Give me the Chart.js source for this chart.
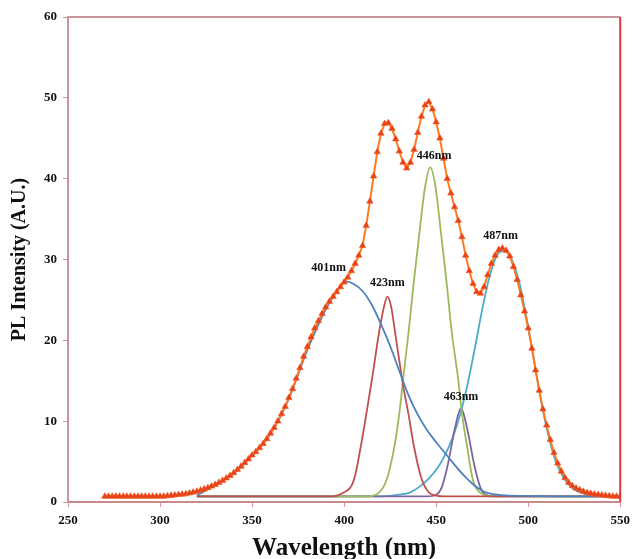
<!DOCTYPE html>
<html>
<head>
<meta charset="utf-8">
<script src="https://cdn.jsdelivr.net/npm/chart.js@4.4.0/dist/chart.umd.min.js"></script>
<style>
  html, body { margin: 0; padding: 0; background: #fff; }
  canvas { display: block; }
</style>
</head>
<body>
<canvas id="plChart" width="636" height="559"></canvas>
<script>
// measured PL spectrum (every 2 nm)
const wavelengths = [
  270, 272, 274, 276, 278, 280, 282, 284, 286, 288,
  290, 292, 294, 296, 298, 300, 302, 304, 306, 308,
  310, 312, 314, 316, 318, 320, 322, 324, 326, 328,
  330, 332, 334, 336, 338, 340, 342, 344, 346, 348,
  350, 352, 354, 356, 358, 360, 362, 364, 366, 368,
  370, 372, 374, 376, 378, 380, 382, 384, 386, 388,
  390, 392, 394, 396, 398, 400, 402, 404, 406, 408,
  410, 412, 414, 416, 418, 420, 422, 424, 426, 428,
  430, 432, 434, 436, 438, 440, 442, 444, 446, 448,
  450, 452, 454, 456, 458, 460, 462, 464, 466, 468,
  470, 472, 474, 476, 478, 480, 482, 484, 486, 488,
  490, 492, 494, 496, 498, 500, 502, 504, 506, 508,
  510, 512, 514, 516, 518, 520, 522, 524, 526, 528,
  530, 532, 534, 536, 538, 540, 542, 544, 546, 548,
  550
];
const measured = [
  0.7, 0.7, 0.7, 0.7, 0.7, 0.7, 0.7, 0.7, 0.7, 0.7,
  0.7, 0.7, 0.7, 0.7, 0.7, 0.7, 0.7, 0.75, 0.8, 0.85,
  0.9, 0.95, 1.0, 1.1, 1.2, 1.3, 1.45, 1.6, 1.75, 1.95,
  2.15, 2.4, 2.65, 2.95, 3.25, 3.6, 4.0, 4.4, 4.85, 5.3,
  5.8, 6.2, 6.7, 7.2, 7.8, 8.5, 9.2, 10.0, 10.9, 11.8,
  12.9, 14.0, 15.3, 16.6, 18.0, 19.2, 20.4, 21.5, 22.4, 23.3,
  24.1, 24.8, 25.4, 26.0, 26.6, 27.2, 27.8, 28.6, 29.5, 30.5,
  31.7, 34.2, 37.2, 40.3, 43.3, 45.6, 46.8, 46.9, 46.2, 44.9,
  43.4, 42.0, 41.3, 42.0, 43.6, 45.7, 47.7, 49.1, 49.5, 48.6,
  47.0, 45.0, 42.5, 40.0, 38.2, 36.5, 34.8, 32.8, 30.5, 28.6,
  27.0, 26.0, 25.8, 26.6, 28.1, 29.5, 30.5, 31.2, 31.4, 31.1,
  30.4, 29.1, 27.5, 25.6, 23.6, 21.5, 19.0, 16.3, 13.8, 11.5,
  9.5, 7.7, 6.1, 4.8, 3.8, 3.0, 2.4, 2.0, 1.7, 1.5,
  1.3, 1.15, 1.05, 0.95, 0.9, 0.85, 0.8, 0.75, 0.7, 0.7,
  0.7
];

// fitted components
const peak401X = [320, 330, 340, 350, 360, 370, 380, 390, 395, 401, 405, 410, 415, 420, 425, 430, 435, 440, 445, 450, 455, 460, 465, 470, 475, 480, 490, 500, 520, 550];
const peak401Y = [0.8, 2.1, 3.5, 5.7, 8.4, 12.8, 18.8, 23.8, 25.7, 27.3, 27.0, 26.1, 24.4, 22.0, 19.3, 16.2, 13.2, 10.8, 8.9, 7.4, 6.0, 4.6, 3.3, 2.2, 1.4, 1.0, 0.8, 0.75, 0.7, 0.7];

const peak423X = [320, 394, 397, 400, 404, 406, 409, 412, 415, 419, 421.5, 423.5, 425.5, 428, 432, 435, 438, 442, 446, 450, 455, 550];
const peak423Y = [0.7, 0.7, 0.85, 1.2, 2.0, 3.3, 6.8, 10.8, 15.0, 21.0, 24.0, 25.4, 24.2, 20.5, 14.5, 10.8, 6.8, 2.9, 1.2, 0.8, 0.7, 0.7];

const peak446X = [320, 412, 418, 423, 427.3, 430, 432, 435, 438, 441, 444, 446.8, 449.5, 452.5, 455.5, 458.5, 462, 464, 466.8, 470, 475, 481, 550];
const peak446Y = [0.7, 0.7, 1.0, 2.7, 6.85, 11.0, 15.1, 21.0, 27.5, 33.5, 39.0, 41.4, 39.2, 33.5, 27.5, 21.0, 15.1, 11.0, 6.85, 2.7, 1.0, 0.7, 0.7];

const peak463X = [320, 445, 450, 453, 456.5, 460, 463.5, 467, 470.5, 474, 477, 483, 550];
const peak463Y = [0.7, 0.7, 0.9, 1.8, 4.8, 8.9, 11.6, 8.9, 4.8, 1.8, 0.9, 0.7, 0.7];

const peak487X = [320, 420, 430, 436, 441, 446, 451, 455, 459, 463, 467, 471, 475, 479, 483, 487, 491, 495, 499, 503, 507, 511, 515, 519, 523, 527, 532, 540, 550];
const peak487Y = [0.7, 0.7, 0.9, 1.2, 1.9, 2.9, 4.3, 5.9, 8.0, 10.8, 14.5, 19.0, 23.8, 27.9, 30.5, 31.1, 30.0, 27.3, 22.9, 17.8, 12.5, 8.2, 5.0, 3.1, 1.9, 1.3, 0.95, 0.75, 0.7];

// peak labels (text anchored in data units)
const peakLabels = ['401nm', '423nm', '446nm', '463nm', '487nm'];
const peakLabelX = [391.6, 423.5, 448.9, 463.5, 485];
const peakLabelY = [28.9, 27.1, 42.8, 13.0, 32.9];

const xTicks = { min: 250, max: 550, step: 50 };
const yTicks = { min: 0, max: 60, step: 10 };

const pairs = (xs, ys) => xs.map((x, i) => ({ x: x, y: ys[i] }));

const serif = "'Liberation Serif', 'Times New Roman', serif";

function component(data, color) {
  return {
    data: data,
    borderColor: color,
    borderWidth: 1.8,
    pointRadius: 0,
    fill: false,
    cubicInterpolationMode: 'monotone'
  };
}

// plot frame + peak names
const framePlugin = {
  id: 'frame',
  afterDatasetsDraw(chart) {
    const { ctx, chartArea: a, scales } = chart;
    ctx.save();
    ctx.lineWidth = 2;
    ctx.strokeStyle = '#c9969c';
    ctx.beginPath();
    ctx.moveTo(a.left, a.top);
    ctx.lineTo(a.right, a.top);
    ctx.stroke();
    ctx.strokeStyle = '#d8383c';
    ctx.beginPath();
    ctx.moveTo(a.right, a.top);
    ctx.lineTo(a.right, a.bottom);
    ctx.stroke();

    ctx.fillStyle = '#111';
    ctx.font = 'bold 12px ' + serif;
    ctx.textAlign = 'center';
    ctx.textBaseline = 'middle';
    peakLabels.forEach((t, i) => {
      ctx.fillText(t, scales.x.getPixelForValue(peakLabelX[i]), scales.y.getPixelForValue(peakLabelY[i]));
    });
    ctx.restore();
  }
};

new Chart(document.getElementById('plChart'), {
  type: 'line',
  data: {
    datasets: [
      {
        data: pairs(wavelengths, measured),
        borderColor: '#ff7a1e',
        borderWidth: 2,
        pointStyle: 'triangle',
        pointRadius: 3.7,
        pointBackgroundColor: '#e8401c',
        pointBorderColor: '#ee5a1e',
        pointBorderWidth: 0.6,
        fill: false,
        tension: 0
      },
      component(pairs(peak401X, peak401Y), '#4f81bd'),
      component(pairs(peak423X, peak423Y), '#c0504d'),
      component(pairs(peak446X, peak446Y), '#9bbb59'),
      component(pairs(peak463X, peak463Y), '#8064a2'),
      component(pairs(peak487X, peak487Y), '#4bacc6')
    ]
  },
  options: {
    responsive: false,
    devicePixelRatio: 1,
    animation: false,
    layout: { padding: { top: 17, right: 13, left: 0, bottom: 0 } },
    plugins: { legend: { display: false }, tooltip: { enabled: false } },
    scales: {
      x: {
        type: 'linear',
        min: xTicks.min,
        max: xTicks.max,
        ticks: {
          stepSize: xTicks.step,
          color: '#111',
          padding: 6,
          font: { family: serif, size: 13, weight: 'bold' }
        },
        grid: { drawOnChartArea: false, tickLength: 5, color: '#c9969c' },
        border: { color: '#c98a8f', width: 2 },
        title: {
          display: true,
          text: 'Wavelength (nm)',
          color: '#111',
          padding: { top: 0, bottom: -5 },
          font: { family: serif, size: 25, weight: 'bold' }
        },
        afterFit(scale) { scale.height = 57; }
      },
      y: {
        min: yTicks.min,
        max: yTicks.max,
        ticks: {
          stepSize: yTicks.step,
          color: '#111',
          padding: 6,
          font: { family: serif, size: 13, weight: 'bold' }
        },
        grid: { drawOnChartArea: false, tickLength: 5, color: '#c9969c' },
        border: { color: '#c9969c', width: 2 },
        title: {
          display: true,
          text: 'PL Intensity (A.U.)',
          color: '#111',
          padding: { top: 8, bottom: 0 },
          font: { family: serif, size: 20, weight: 'bold' }
        },
        afterFit(scale) { scale.width = 68; }
      }
    }
  },
  plugins: [framePlugin]
});
</script>
</body>
</html>
